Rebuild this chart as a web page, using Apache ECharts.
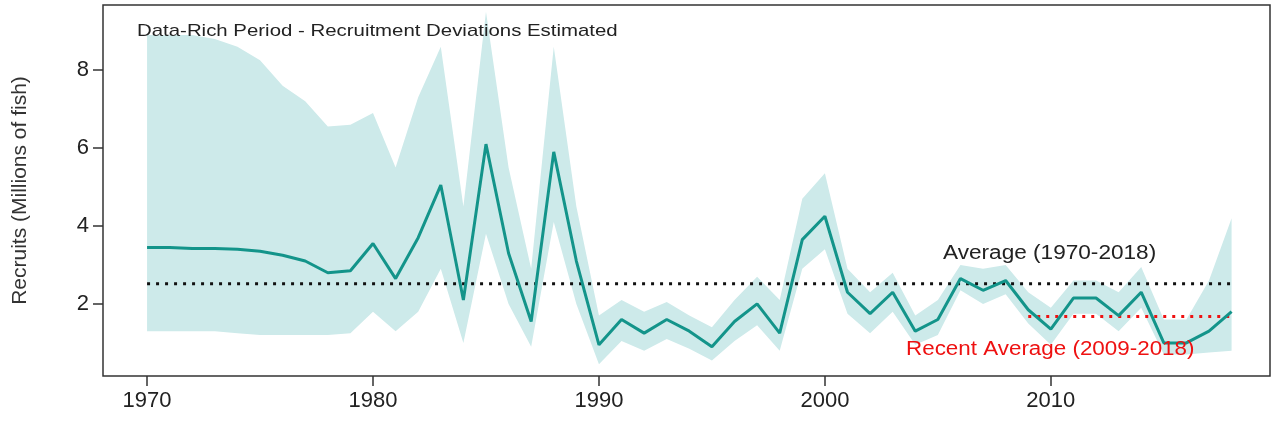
<!DOCTYPE html>
<html><head><meta charset="utf-8">
<script src="https://cdn.jsdelivr.net/npm/echarts@6/dist/echarts.min.js"></script>
<style>html,body{margin:0;padding:0;background:#fff}#c{width:1275px;height:431px}</style>
</head><body><div id="c"></div>
<script>
const years = [];
for (let y = 1970; y <= 2018; y++) years.push(y);
const recruits = [3.45,3.45,3.42,3.42,3.4,3.35,3.25,3.1,2.8,2.85,3.55,2.65,3.7,5.05,2.1,6.1,3.3,1.55,5.9,3.1,0.95,1.6,1.25,1.6,1.3,0.9,1.55,2.0,1.25,3.65,4.25,2.3,1.75,2.3,1.3,1.6,2.65,2.35,2.6,1.85,1.35,2.15,2.15,1.7,2.3,1.0,1.0,1.3,1.8];
const upper = [8.9,8.9,8.9,8.8,8.6,8.25,7.6,7.2,6.55,6.6,6.9,5.5,7.3,8.6,4.5,9.5,5.5,2.9,8.6,4.5,1.7,2.1,1.8,2.05,1.7,1.4,2.1,2.7,2.1,4.7,5.35,2.9,2.3,2.8,1.7,2.1,3.0,2.9,3.0,2.3,1.9,2.6,2.6,2.3,2.95,1.6,1.6,2.6,4.2];
const lower = [1.3,1.3,1.3,1.3,1.25,1.2,1.2,1.2,1.2,1.25,1.8,1.3,1.8,2.9,1.0,3.8,2.0,0.9,4.1,2.0,0.45,1.05,0.8,1.1,0.85,0.55,1.05,1.45,0.8,2.9,3.4,1.75,1.25,1.8,0.95,1.2,2.35,2.0,2.25,1.5,0.95,1.75,1.75,1.3,1.9,0.7,0.7,0.75,0.8];
const avgAll = 2.52, avgRecent = 1.68, recentStart = 2009, recentEnd = 2018;
const xTicks = [1970,1980,1990,2000,2010];
const yTicks = [2,4,6,8];

const chart = echarts.init(document.getElementById('c'));
const font = 'Liberation Sans';
chart.setOption({
  animation:false,
  grid:{left:103,right:5,top:5,bottom:55,show:true,borderColor:'#333',borderWidth:1.5},
  xAxis:{type:'value',min:1968.05,max:2019.7,
    axisLine:{show:false},splitLine:{show:false},
    axisTick:{show:true,length:10,customValues:xTicks,lineStyle:{color:'#333',width:1.5}},
    axisLabel:{customValues:xTicks,formatter:v=>String(v),fontSize:22,color:'#222',margin:14,fontFamily:font}},
  yAxis:{type:'value',min:0.15,max:9.67,
    name:'Recruits (Millions of fish)',nameLocation:'middle',nameGap:72,nameRotate:90,
    nameTextStyle:{fontSize:21,color:'#333',fontFamily:font},
    axisLine:{show:false},splitLine:{show:false},
    axisTick:{show:true,length:10,customValues:yTicks,lineStyle:{color:'#333',width:1.5}},
    axisLabel:{customValues:yTicks,fontSize:22,color:'#222',margin:14,fontFamily:font}},
  series:[
    {type:'custom',silent:true,z:1,
     data:years.map((y,i)=>[y,lower[i],upper[i]]),
     renderItem:function(params,api){
       if(params.dataIndex!==0) return null;
       const pts=[];
       for(let i=0;i<years.length;i++) pts.push(api.coord([years[i],upper[i]]));
       for(let i=years.length-1;i>=0;i--) pts.push(api.coord([years[i],lower[i]]));
       return {type:'polygon',shape:{points:pts},style:{fill:'#cdeaea'}};
     }},
    {type:'line',data:years.map((y,i)=>[y,recruits[i]]),symbol:'none',lineStyle:{color:'#13948a',width:3},z:5},
    {type:'line',data:[[1970,avgAll],[2018,avgAll]],symbol:'none',lineStyle:{color:'#111',width:3,type:[3,6]},z:4},
    {type:'line',data:[[recentStart,avgRecent],[recentEnd,avgRecent]],symbol:'none',lineStyle:{color:'#ee1111',width:3,type:[3,6]},z:4}
  ],
  graphic:[
    {type:'text',left:137,top:23,z:10,scaleX:1.2,style:{text:'Data-Rich Period - Recruitment Deviations Estimated',fontSize:17,fill:'#222',fontFamily:font}},
    {type:'text',left:943,top:243,z:10,scaleX:1.13,style:{text:'Average (1970-2018)',fontSize:20,fill:'#222',fontFamily:font}},
    {type:'text',left:906,top:339,z:10,scaleX:1.12,style:{text:'Recent Average (2009-2018)',fontSize:20,fill:'#ee1111',fontFamily:font}}
  ]
});
</script></body></html>
